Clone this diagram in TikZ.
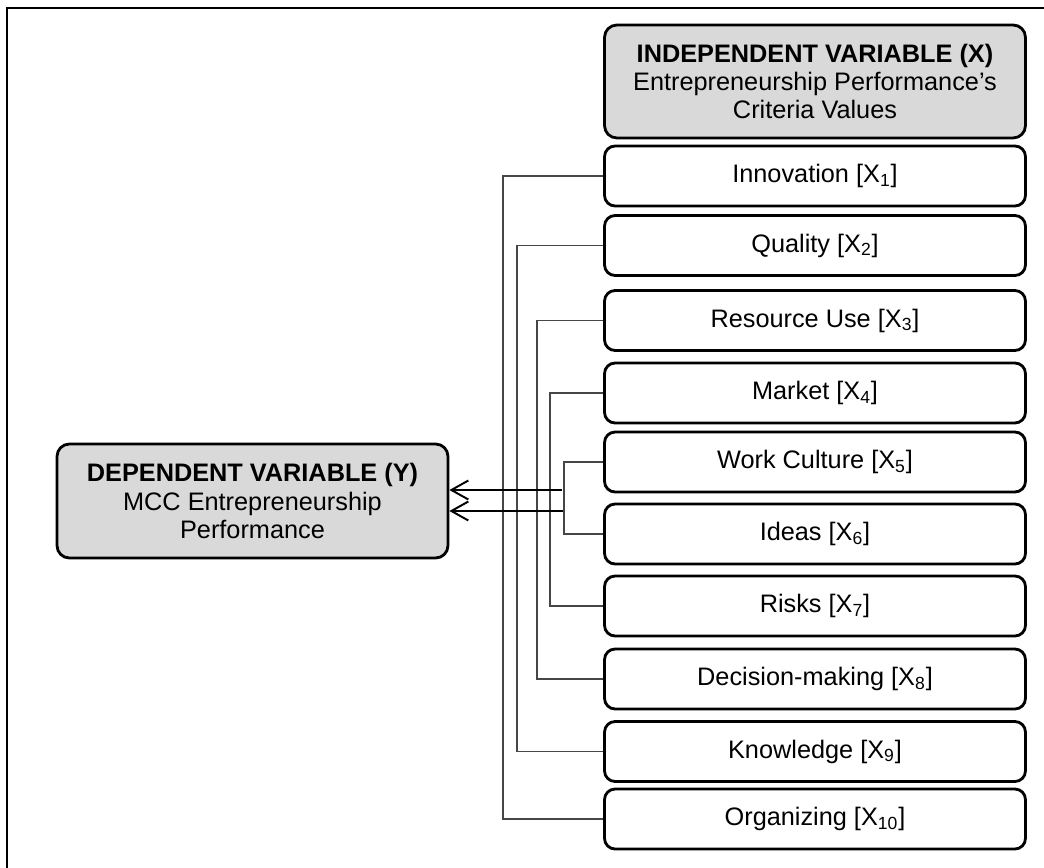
\documentclass[tikz,border=0pt]{standalone}
\usepackage{fontspec}
\setmainfont{Liberation Sans}
\usetikzlibrary{arrows.meta,positioning}
\definecolor{boxgray}{RGB}{217,217,217}
\definecolor{linegray}{RGB}{70,70,70}
\tikzset{
  varbox/.style={draw, line width=1.6pt, fill=boxgray, rounded corners=7pt, align=center, inner sep=0pt, font=\fontsize{14.4}{16}\selectfont},
  critbox/.style={draw, line width=1.6pt, fill=white, rounded corners=6pt, minimum width=8.42cm, minimum height=1.2cm, inner sep=0pt, font=\fontsize{14.4}{16}\selectfont},
  link/.style={linegray, line width=0.7pt},
  infl/.style={-{Straight Barb[length=3.4mm,width=3.8mm]}, line width=1.1pt},
  frm/.style={line width=1.7pt},
}

\begin{document}
\begin{tikzpicture}[x=0.02cm, y=-0.02cm]
\useasboundingbox (0,0) rectangle (1044,868);
\draw[frm] (7,868) -- (7,8) -- (1044,8);

% variable boxes
\node[varbox, minimum width=8.42cm, minimum height=2.26cm] (X) at (815,81.5)
  {\textbf{INDEPENDENT VARIABLE (X)}\\Entrepreneurship Performance's\\Criteria Values};
\node[varbox, minimum width=7.82cm, minimum height=2.28cm] (Y) at (252.5,501)
  {\textbf{DEPENDENT VARIABLE (Y)}\\MCC Entrepreneurship\\Performance};

% criteria
\foreach \yy/\lbl [count=\i] in {176/{Innovation [X\textsubscript{1}]}, 245.5/{Quality [X\textsubscript{2}]},
    320.5/{Resource Use [X\textsubscript{3}]}, 393/{Market [X\textsubscript{4}]},
    462/{Work Culture [X\textsubscript{5}]}, 534/{Ideas [X\textsubscript{6}]},
    606/{Risks [X\textsubscript{7}]}, 679/{Decision-making [X\textsubscript{8}]},
    751.5/{Knowledge [X\textsubscript{9}]}, 819/{Organizing [X\textsubscript{10}]}}
  \node[critbox] (x\i) at (815,\yy) {\lbl};

% paired brackets
\foreach \ia/\ib/\bx [count=\k] in {1/10/503, 2/9/517, 3/8/537, 4/7/550, 5/6/564} {
  \coordinate (bus\k) at (\bx,0);
  \draw[link] (x\ia.west) -- (x\ia.west -| bus\k) -- (x\ib.west -| bus\k) -- (x\ib.west);
}

% influence arrows
\coordinate (a1) at (562,490);
\coordinate (a2) at (563,511);
\draw[infl] (a1) -- (a1 -| Y.east);
\draw[infl] (a2) -- (a2 -| Y.east);
\end{tikzpicture}
\end{document}
